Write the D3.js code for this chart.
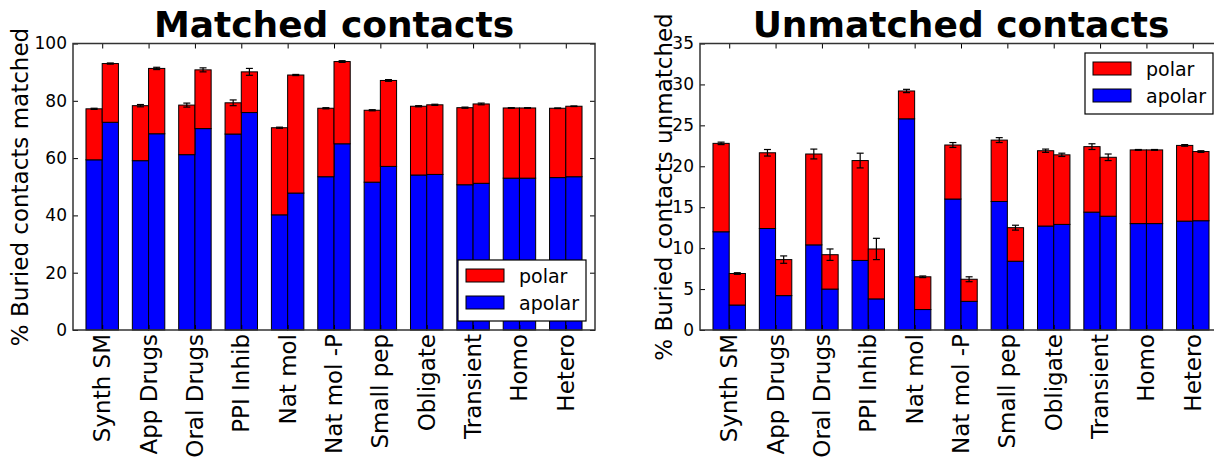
<!DOCTYPE html>
<html>
<head>
<meta charset="utf-8">
<script src="https://cdn.jsdelivr.net/npm/d3@7"></script>
<style>
  body { margin: 0; background: #fff; }
  svg { display: block; font-family: "DejaVu Sans", sans-serif; }
</style>
</head>
<body>
<svg id="chart" width="1214" height="461"></svg>
<script>
// categories on the x axis (same for both panels)
var categories = ["Synth SM", "App Drugs", "Oral Drugs", "PPI Inhib", "Nat mol", "Nat mol -P",
  "Small pep", "Obligate", "Transient", "Homo", "Hetero"];
var seriesNames = ["polar", "apolar"];

// Matched contacts: first bar (A) and second bar (B) of each group
var matchedApolarA = [59.4, 59.1, 61.2, 68.4, 40.2, 53.5, 51.6, 54.1, 50.7, 53.0, 53.2];
var matchedPolarA  = [17.8, 19.2, 17.3, 10.9, 30.4, 23.9, 25.1, 24.0, 26.9, 24.5, 24.2];
var matchedErrA    = [0.2, 0.4, 0.7, 1.0, 0.2, 0.2, 0.2, 0.2, 0.2, 0.1, 0.1];
var matchedApolarB = [72.5, 68.5, 70.3, 75.9, 47.8, 65.0, 57.1, 54.3, 51.2, 53.0, 53.5];
var matchedPolarB  = [20.5, 22.8, 20.5, 14.2, 41.2, 28.7, 30.0, 24.3, 27.7, 24.5, 24.6];
var matchedErrB    = [0.2, 0.4, 0.7, 1.2, 0.2, 0.3, 0.3, 0.2, 0.3, 0.1, 0.1];

// Unmatched contacts
var unmatchedApolarA = [12.0, 12.4, 10.4, 8.5, 25.8, 16.0, 15.7, 12.7, 14.4, 13.0, 13.3];
var unmatchedPolarA  = [10.8, 9.25, 11.1, 12.2, 3.4, 6.6, 7.5, 9.2, 8.0, 9.0, 9.25];
var unmatchedErrA    = [0.15, 0.4, 0.6, 0.9, 0.2, 0.3, 0.3, 0.2, 0.35, 0.05, 0.1];
var unmatchedApolarB = [3.05, 4.2, 5.0, 3.8, 2.5, 3.5, 8.4, 12.9, 13.9, 13.0, 13.35];
var unmatchedPolarB  = [3.85, 4.4, 4.2, 6.1, 4.0, 2.7, 4.1, 8.5, 7.2, 9.0, 8.45];
var unmatchedErrB    = [0.1, 0.45, 0.7, 1.3, 0.1, 0.3, 0.3, 0.2, 0.4, 0.05, 0.1];

var matchedTicks = [0, 20, 40, 60, 80, 100];
var unmatchedTicks = [0, 5, 10, 15, 20, 25, 30, 35];

var color = d3.scaleOrdinal().domain(seriesNames).range(["#ff0000", "#0000ff"]);
var svg = d3.select("#chart");
var barW = 0.35;

function drawPanel(p) {
  var xs = d3.scaleLinear().domain([-0.63, 10.63]).range([p.left, p.left + 522]);
  var ys = d3.scaleLinear().domain([0, p.ymax]).range([330, 43.5]);
  var g = svg.append("g");

  // title
  g.append("text")
    .attr("x", (p.left + p.left + 522) / 2).attr("y", 37)
    .attr("text-anchor", "middle")
    .attr("font-weight", "bold").attr("font-size", "36px")
    .text(p.title);

  // build rows for the two bars in each group
  var rows = [];
  categories.forEach(function(c, i) {
    rows.push({x0: i - barW, apolar: p.apolarA[i], polar: p.polarA[i], err: p.errA[i]});
    rows.push({x0: i, apolar: p.apolarB[i], polar: p.polarB[i], err: p.errB[i]});
  });

  // apolar (bottom)
  g.selectAll("rect.apolar").data(rows).enter().append("rect")
    .attr("class", "apolar")
    .attr("x", function(d) { return xs(d.x0); })
    .attr("width", function(d) { return xs(d.x0 + barW) - xs(d.x0); })
    .attr("y", function(d) { return ys(d.apolar); })
    .attr("height", function(d) { return ys(0) - ys(d.apolar); })
    .attr("fill", color("apolar")).attr("stroke", "#000").attr("stroke-width", 1);
  // polar (stacked on top)
  g.selectAll("rect.polar").data(rows).enter().append("rect")
    .attr("class", "polar")
    .attr("x", function(d) { return xs(d.x0); })
    .attr("width", function(d) { return xs(d.x0 + barW) - xs(d.x0); })
    .attr("y", function(d) { return ys(d.apolar + d.polar); })
    .attr("height", function(d) { return ys(d.apolar) - ys(d.apolar + d.polar); })
    .attr("fill", color("polar")).attr("stroke", "#000").attr("stroke-width", 1);

  // error bars on the totals
  var eb = g.selectAll("g.err").data(rows).enter().append("g")
    .attr("stroke", "#000").attr("stroke-width", 1.2);
  eb.append("line")
    .attr("x1", function(d) { return xs(d.x0 + barW / 2); })
    .attr("x2", function(d) { return xs(d.x0 + barW / 2); })
    .attr("y1", function(d) { return ys(d.apolar + d.polar - d.err); })
    .attr("y2", function(d) { return ys(d.apolar + d.polar + d.err); });
  [-1, 1].forEach(function(s) {
    eb.append("line")
      .attr("x1", function(d) { return xs(d.x0 + barW / 2) - 3.5; })
      .attr("x2", function(d) { return xs(d.x0 + barW / 2) + 3.5; })
      .attr("y1", function(d) { return ys(d.apolar + d.polar + s * d.err); })
      .attr("y2", function(d) { return ys(d.apolar + d.polar + s * d.err); });
  });

  // axes (ticks pointing inward on all sides)
  var idx = d3.range(categories.length);
  var left = g.append("g").attr("transform", "translate(" + p.left + ",0)")
    .call(d3.axisLeft(ys).tickValues(p.ticks).tickSize(-5).tickPadding(6).tickSizeOuter(0));
  left.selectAll("text").attr("font-size", "17px").attr("font-family", "DejaVu Sans").attr("fill", "#000");
  g.append("g").attr("transform", "translate(" + (p.left + 522) + ",0)")
    .call(d3.axisRight(ys).tickValues(p.ticks).tickSize(-5).tickFormat("").tickSizeOuter(0));
  g.append("g").attr("transform", "translate(0,43.5)")
    .call(d3.axisTop(xs).tickValues(idx).tickSize(-5).tickFormat("").tickSizeOuter(0));
  var bottom = g.append("g").attr("transform", "translate(0,330)")
    .call(d3.axisBottom(xs).tickValues(idx).tickSize(-5).tickFormat("").tickSizeOuter(0));
  g.selectAll(".domain").remove();
  g.selectAll(".tick line").attr("stroke", "#000");

  // x labels, rotated
  g.selectAll("text.xlab").data(categories).enter().append("text")
    .attr("class", "xlab")
    .attr("transform", function(d, i) { return "translate(" + xs(i) + ",334) rotate(-90)"; })
    .attr("text-anchor", "end").attr("dominant-baseline", "central")
    .attr("font-size", "23px")
    .text(function(d) { return d; });

  // frame
  g.append("rect")
    .attr("x", p.left).attr("y", 43.5).attr("width", 522).attr("height", 330 - 43.5)
    .attr("fill", "none").attr("stroke", "#333").attr("stroke-width", 1.5);

  // y label
  g.append("text")
    .attr("transform", "translate(" + p.ylabX + ",187) rotate(-90)")
    .attr("text-anchor", "middle").attr("font-size", "23px")
    .text(p.ylabel);

  // legend
  var lg = g.append("g").attr("transform", "translate(" + p.legX + "," + p.legY + ")");
  lg.append("rect").attr("width", 128).attr("height", 61)
    .attr("fill", "#fff").attr("stroke", "#000").attr("stroke-width", 1.2);
  seriesNames.forEach(function(n, i) {
    lg.append("rect").attr("x", 8).attr("y", 9 + i * 27).attr("width", 38).attr("height", 13)
      .attr("fill", color(n)).attr("stroke", "#000").attr("stroke-width", 1);
    lg.append("text").attr("x", 61).attr("y", 15.5 + i * 27)
      .attr("dominant-baseline", "central").attr("font-size", "19px")
      .text(n);
  });
}

drawPanel({
  left: 73, ymax: 100, ticks: matchedTicks, title: "Matched contacts",
  ylabel: "% Buried contacts matched", ylabX: 28,
  apolarA: matchedApolarA, polarA: matchedPolarA, errA: matchedErrA,
  apolarB: matchedApolarB, polarB: matchedPolarB, errB: matchedErrB,
  legX: 458, legY: 260
});
drawPanel({
  left: 700, ymax: 35, ticks: unmatchedTicks, title: "Unmatched contacts",
  ylabel: "% Buried contacts unmatched", ylabX: 672,
  apolarA: unmatchedApolarA, polarA: unmatchedPolarA, errA: unmatchedErrA,
  apolarB: unmatchedApolarB, polarB: unmatchedPolarB, errB: unmatchedErrB,
  legX: 1085, legY: 53
});
</script>
</body>
</html>
